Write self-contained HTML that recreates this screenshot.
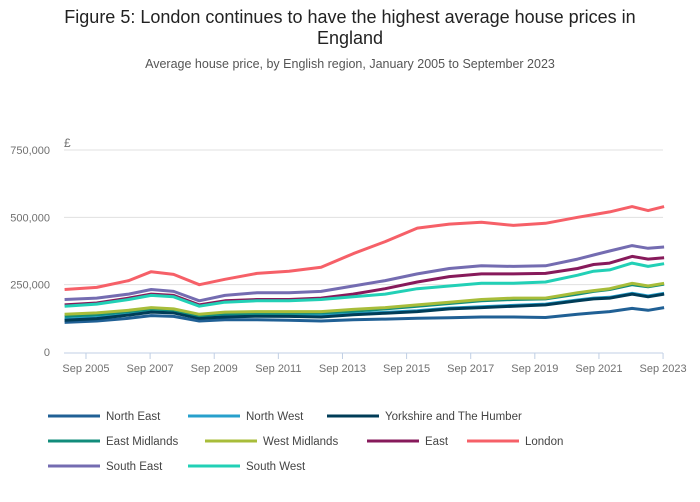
<!DOCTYPE html>
<html><head><meta charset="utf-8"><style>
body{margin:0;background:#fff;font-family:"Liberation Sans",sans-serif;}
#wrap{position:relative;width:700px;height:502px;overflow:hidden}
h1{position:absolute;top:7px;left:40px;width:620px;margin:0;text-align:center;font-size:18px;font-weight:normal;color:#222;line-height:21px}
.sub{position:absolute;top:57px;left:0;width:700px;text-align:center;font-size:12.5px;color:#555}
</style></head><body>
<div id="wrap">
<h1>Figure 5: London continues to have the highest average house prices in England</h1>
<div class="sub">Average house price, by English region, January 2005 to September 2023</div>
<svg id="svg" width="700" height="502" style="position:absolute;left:0;top:0"></svg>
</div>
<script>
const dates=[2005.0,2006,2007,2007.7,2008.4,2009.2,2010,2011,2012,2013,2014,2015,2016,2017,2018,2019,2020,2021,2021.5,2022,2022.7,2023.2,2023.7];
const northEast=[110,115,125,135,132,115,120,120,118,115,120,122,125,127,130,130,128,140,145,150,162,155,165];
const northWest=[122,128,140,152,148,128,134,136,136,135,142,147,153,163,168,173,178,193,200,203,218,208,218];
const yorkshire=[118,124,137,148,145,125,130,133,132,130,138,144,150,160,165,170,175,190,197,200,215,205,215];
const eastMidlands=[133,138,150,160,156,135,142,144,144,145,152,160,170,180,190,195,197,215,225,232,250,242,252];
const westMidlands=[140,145,155,165,160,140,148,150,150,150,158,165,175,185,195,200,200,220,228,235,255,245,255];
const east=[175,182,200,215,210,175,190,195,195,200,215,235,260,280,290,290,292,310,325,330,355,345,350];
const london=[232,240,265,298,288,250,270,292,300,315,365,410,460,475,482,470,478,500,510,520,540,525,540];
const southEast=[195,200,215,232,225,190,210,220,220,225,245,265,290,310,320,318,320,345,360,375,395,385,390];
const southWest=[170,178,195,210,205,170,185,190,190,195,205,215,235,245,255,255,260,285,300,305,330,318,328];
const seriesNames=["North East","North West","Yorkshire and The Humber","East Midlands","West Midlands","East","London","South East","South West"];
const seriesData=[northEast,northWest,yorkshire,eastMidlands,westMidlands,east,london,southEast,southWest];
const yTicks=[0,250000,500000,750000];
const yTickLabels=["0","250,000","500,000","750,000"];
const xTicks=[2005.667,2007.667,2009.667,2011.667,2013.667,2015.667,2017.667,2019.667,2021.667,2023.667];
const xTickLabels=["Sep 2005","Sep 2007","Sep 2009","Sep 2011","Sep 2013","Sep 2015","Sep 2017","Sep 2019","Sep 2021","Sep 2023"];
const colors=["#206095","#27a0cc","#003c57","#118c7b","#a8bd3a","#871a5b","#f66068","#746cb1","#22d0b6"];
const X0=64.6,PXY=32.06,Y0=352,PXV=202/750000;
const xs=d=>X0+(d-2005)*PXY, ys=v=>Y0-v*PXV;
const svg=document.getElementById('svg');
const NS="http://www.w3.org/2000/svg";
function mk(t,a,p){const e=document.createElementNS(NS,t);for(const k in a)e.setAttribute(k,a[k]);(p||svg).appendChild(e);return e;}
yTicks.forEach((v,i)=>{
  if(v>0){const g=mk('line',{x1:64,x2:663,y1:ys(v),y2:ys(v),stroke:'#e0e0e0','stroke-width':1});
  
  }
  const t=mk('text',{x:50,y:ys(v)+4,'text-anchor':'end','font-size':11,fill:'#707070'});t.textContent=yTickLabels[i];
  
  
});
const pound=mk('text',{x:64,y:147,'font-size':12,fill:'#707070'});pound.textContent='£';


const ax=mk('line',{x1:64,x2:663,y1:353,y2:353,stroke:'#c0cfe4','stroke-width':1});


xTicks.forEach((d,i)=>{
  const l=mk('line',{x1:xs(d),x2:xs(d),y1:353,y2:359,stroke:'#c0cfe4'});
  
  
  const t=mk('text',{x:xs(d),y:372,'text-anchor':'middle','font-size':11,fill:'#707070'});t.textContent=xTickLabels[i];
  
  
});
seriesData.forEach((arr,s)=>{
  const pts=arr.map((v,i)=>xs(dates[i]).toFixed(1)+','+ys(v*1000).toFixed(1)).join(' ');
  const p=mk('polyline',{points:pts,fill:'none',stroke:colors[s],'stroke-width':3,'stroke-linejoin':'round'});
  
  
});
const legPos=[[48,416],[188,416],[327,416],[48,441],[205,441],[367,441],[467,441],[48,466],[188,466]];
seriesNames.forEach((n,s)=>{
  const [x,y]=legPos[s];
  const g=mk('g',{});
  
  
  mk('line',{x1:x,x2:x+52,y1:y,y2:y,stroke:colors[s],'stroke-width':3},g);
  const t=mk('text',{x:x+58,y:y+4,'font-size':11.5,fill:'#444'},g);t.textContent=n;
});
</script>
</body></html>
